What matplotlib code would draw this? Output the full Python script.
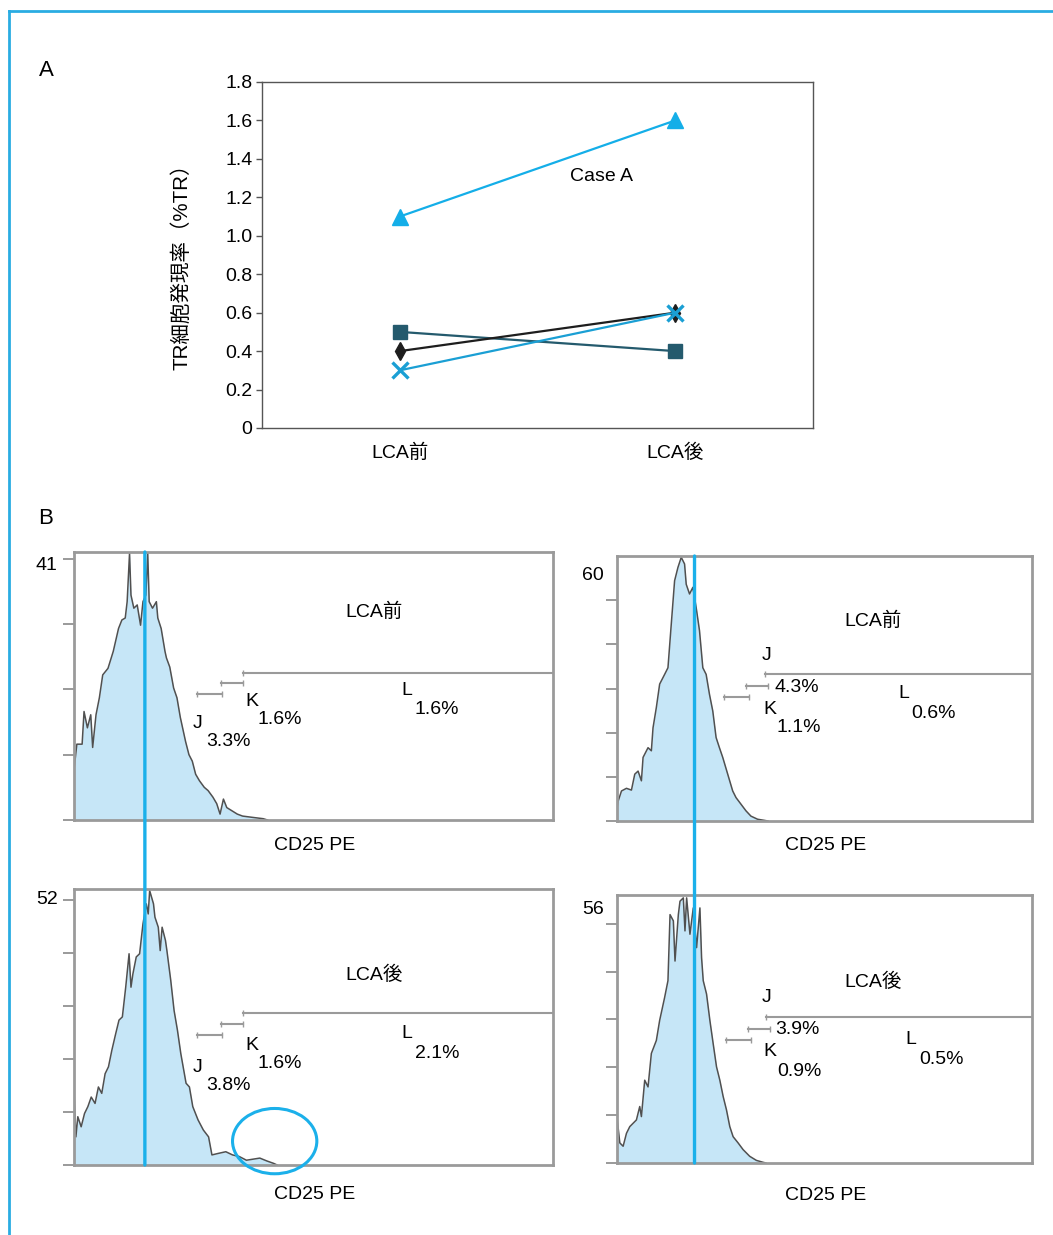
import matplotlib
matplotlib.use('Agg')
import matplotlib.pyplot as plt
from matplotlib.patches import Ellipse, ConnectionPatch
from matplotlib.lines import Line2D

plt.rcParams['font.family'] = ['Liberation Sans', 'Noto Sans CJK JP', 'DejaVu Sans']

# ---------------- data: panel A ----------------
categories = ['LCA前', 'LCA後']
series_triangle = [1.1, 1.6]   # Case A
series_square = [0.5, 0.4]
series_diamond = [0.4, 0.6]
series_cross = [0.3, 0.6]
y_ticks = [0, 0.2, 0.4, 0.6, 0.8, 1.0, 1.2, 1.4, 1.6, 1.8]
y_tick_labels = ['0', '0.2', '0.4', '0.6', '0.8', '1.0', '1.2', '1.4', '1.6', '1.8']

# ---------------- data: panel B histograms (channel 0-100, counts) ----------------
h1_x = [0.0, 0.7, 1.8, 2.2, 2.9, 3.6, 4.0, 4.7, 5.4, 6.1, 7.2, 8.3, 9.4, 10.1, 10.8, 11.2, 11.7,
        12.0, 12.6, 13.3, 14.0, 14.5, 15.1, 15.5, 15.8, 16.5, 17.3, 17.6, 18.3, 19.1, 19.4, 20.1,
        20.9, 21.6, 22.3, 23.4, 24.1, 24.8, 25.5, 26.3, 27.3, 28.1, 29.1, 29.9, 30.6, 31.3, 32.0,
        33.1, 34.2, 35.3, 37.4, 39.6, 40.5]
h1_y = [7.0, 11.6, 11.6, 16.6, 14.1, 16.1, 11.1, 16.1, 18.7, 22.2, 23.2, 25.8, 29.3, 30.6, 30.9, 33.4, 40.8,
        34.4, 32.4, 32.9, 29.8, 33.4, 34.4, 40.8, 33.4, 32.4, 33.4, 30.9, 29.3, 25.8, 24.8, 23.4,
        20.2, 18.7, 15.7, 12.0, 10.0, 9.0, 7.0, 6.0, 5.0, 4.5, 3.5, 2.5, 0.9, 3.2, 1.9,
        1.4, 0.9, 0.6, 0.4, 0.2, 0.0]

h2_x = [0.0, 0.4, 1.2, 2.4, 3.6, 4.4, 5.2, 6.0, 6.4, 7.6, 8.4, 8.8, 9.6, 10.4, 11.6, 12.4, 13.2,
        14.0, 14.8, 15.6, 16.4, 16.8, 17.6, 18.4, 19.2, 20.0, 20.8, 21.6, 22.4, 23.2, 24.0, 24.8,
        25.6, 26.8, 28.0, 28.8, 30.0, 31.2, 32.4, 34.0, 35.6, 36.5]
h2_y = [2.3, 4.5, 6.8, 7.4, 7.0, 10.6, 11.3, 9.1, 14.4, 16.6, 15.9, 21.1, 25.7, 31.0, 33.2, 34.7, 44.6,
        54.4, 57.4, 59.7, 58.2, 53.6, 51.4, 52.9, 48.3, 43.1, 34.7, 33.2, 28.7, 24.9, 18.9, 16.6,
        14.4, 10.6, 6.8, 5.3, 3.8, 2.3, 1.1, 0.4, 0.15, 0.0]

h3_x = [0.0, 0.5, 0.9, 1.6, 2.3, 3.0, 3.7, 4.5, 5.2, 5.9, 6.6, 7.3, 8.0, 8.8, 9.5, 10.2, 10.9,
        11.6, 12.0, 12.4, 13.1, 13.8, 14.5, 15.2, 15.6, 15.9, 16.7, 17.0, 17.7, 18.1, 18.5, 19.2,
        19.5, 20.3, 21.0, 21.7, 22.4, 23.5, 24.2, 24.9, 26.0, 27.1, 28.2, 28.9, 30.3, 31.8, 33.2,
        34.6, 36.1, 37.5, 38.9, 40.4, 41.8, 42.5]
h3_y = [16.0, 5.3, 9.1, 7.2, 9.7, 11.0, 12.8, 11.6, 14.7, 13.5, 17.2, 18.5, 21.6, 24.7, 27.3, 27.9, 33.5,
        39.8, 33.5, 36.0, 39.2, 39.8, 45.4, 49.2, 47.3, 51.7, 49.2, 46.7, 44.8, 40.4, 44.8, 42.3,
        40.4, 34.8, 29.1, 25.4, 21.0, 15.4, 14.7, 11.0, 8.5, 6.6, 5.3, 1.9, 2.2, 2.5, 1.9,
        1.6, 0.9, 1.1, 1.3, 0.75, 0.3, 0.0]

h4_x = [0.0, 0.8, 1.6, 2.4, 3.2, 4.0, 4.8, 5.6, 6.0, 6.8, 7.6, 8.4, 9.6, 10.4, 11.6, 12.4, 12.9,
        13.7, 14.1, 14.9, 15.3, 16.1, 16.5, 16.9, 17.7, 18.5, 19.3, 20.1, 20.5, 20.9, 21.7, 22.5,
        23.3, 24.1, 24.9, 25.7, 26.5, 27.3, 28.1, 29.3, 30.5, 32.1, 33.7, 35.3, 36.0]
h4_y = [10.4, 4.2, 3.5, 6.2, 7.6, 8.3, 9.0, 11.8, 9.7, 17.3, 15.9, 22.9, 25.6, 29.8, 34.6, 38.1, 51.9,
        50.6, 42.2, 51.9, 54.7, 55.4, 48.5, 55.4, 47.8, 53.3, 45.0, 53.3, 42.9, 38.1, 35.3, 29.8,
        24.9, 20.1, 17.3, 13.9, 11.1, 7.6, 5.5, 4.2, 2.8, 1.4, 0.55, 0.15, 0.0]

hist_max = [41, 60, 52, 56]
hist_titles = ['LCA前', 'LCA前', 'LCA後', 'LCA後']
ref_channel = [14.9, 18.8]      # vertical reference lines (left column, right column)
# gates: (L start, L y), (K x0, x1, y), (J x0, x1, y)
gates = [
    ((35.4, 22.5), (30.7, 35.4, 20.9), (25.7, 31.0, 19.3)),
    ((35.7, 33.2), (31.1, 36.6, 30.6), (25.8, 32.0, 28.1)),
    ((35.3, 28.7), (30.8, 35.4, 26.5), (25.7, 31.0, 24.4)),
    ((36.1, 30.5), (31.8, 36.9, 28.0), (26.5, 32.5, 25.7)),
]
gate_pct = [('3.3%', '1.6%', '1.6%'), ('4.3%', '1.1%', '0.6%'),
            ('3.8%', '1.6%', '2.1%'), ('3.9%', '0.9%', '0.5%')]
circle_center = (42.0, 4.5)
circle_size = (17.6, 12.3)

# ---------------- figure ----------------
W, H = 1053, 1235
fig = plt.figure(figsize=(W / 100, H / 100), dpi=100)
fig.patch.set_facecolor('white')


def rect(l, r, t, b):
    return [l / W, 1 - b / H, (r - l) / W, (b - t) / H]


def fx(x):
    return x / W


def fy(y):
    return 1 - y / H


FS = 14
CYAN = '#14aee8'
TEAL = '#245a6d'
GRAY = '#9a9a9a'

# outer frame lines
fig.add_artist(Line2D([fx(9), 1.0], [fy(11), fy(11)], transform=fig.transFigure, color='#2aace2', lw=2))
fig.add_artist(Line2D([fx(9), fx(9)], [fy(11), 0.0], transform=fig.transFigure, color='#2aace2', lw=2))

fig.text(fx(46), fy(70), 'A', fontsize=16, ha='center', va='center')
fig.text(fx(46), fy(518), 'B', fontsize=16, ha='center', va='center')

# ---------------- panel A ----------------
ax = fig.add_axes(rect(262, 813, 82, 428))
xpos = list(range(len(categories)))
ax.plot(xpos, series_triangle, color=CYAN, lw=1.6, marker='^', ms=11, zorder=3)
ax.plot(xpos, series_square, color=TEAL, lw=1.6, marker='s', ms=10, zorder=3)
ax.plot(xpos, series_diamond, color='#1e1e1e', lw=1.6, marker='d', ms=9, zorder=4)
ax.plot(xpos, series_cross, color='#1a9fd4', lw=1.6, marker='x', ms=12, mew=2.4, zorder=5)
ax.set_xlim(-0.5, 1.5)
ax.set_ylim(0, 1.8)
ax.set_yticks(y_ticks)
ax.set_yticklabels(y_tick_labels, fontsize=FS)
ax.set_xticks(xpos)
ax.set_xticklabels(categories, fontsize=FS)
ax.tick_params(axis='x', length=0, pad=11)
ax.tick_params(axis='y', length=4, width=1, color='#555555', pad=3)
for s in ax.spines.values():
    s.set_color('#555555')
    s.set_linewidth(1.0)
ax.set_ylabel('TR細胞発現率（%TR）', fontsize=14.8)
ax.yaxis.set_label_coords(-0.128, 0.48)
ax.text(0.734, 1.306, 'Case A', fontsize=FS, ha='center', va='center')

# ---------------- panel B ----------------
rects = [rect(73.5, 552.5, 552, 820), rect(616.5, 1031.5, 556, 821),
         rect(73.5, 552.5, 889, 1165), rect(616.5, 1031.5, 895, 1163)]
hx = [h1_x, h2_x, h3_x, h4_x]
hy = [h1_y, h2_y, h3_y, h4_y]
axes = []
for i in range(4):
    a = fig.add_axes(rects[i])
    a.fill_between(hx[i], hy[i], 0, color='#c6e6f7', lw=0, zorder=1)
    a.plot(hx[i], hy[i], color='#505050', lw=1.1, zorder=2)
    a.set_xlim(0, 100)
    a.set_ylim(0, hist_max[i])
    a.set_xticks([])
    a.set_yticks(list(range(0, hist_max[i], 10)))
    a.set_yticklabels([])
    a.tick_params(axis='y', length=8, width=1.4, color=GRAY, direction='out')
    for s in a.spines.values():
        s.set_color(GRAY)
        s.set_linewidth(2)
    (lx, ly), (kx0, kx1, ky), (jx0, jx1, jy) = gates[i]
    a.plot([lx, 100], [ly, ly], color=GRAY, lw=1.5, marker='|', ms=5, markevery=[0], zorder=3)
    a.plot([kx0, kx1], [ky, ky], color=GRAY, lw=1.5, marker='|', ms=5, zorder=3)
    a.plot([jx0, jx1], [jy, jy], color=GRAY, lw=1.5, marker='|', ms=5, zorder=3)
    axes.append(a)

# vertical reference lines crossing both rows
for col in range(2):
    top = axes[col]
    bot = axes[col + 2]
    con = ConnectionPatch(xyA=(ref_channel[col], hist_max[col]), coordsA='data', axesA=top,
                          xyB=(ref_channel[col], 0), coordsB='data', axesB=bot,
                          color='#1bb0ea', lw=2.4, zorder=10)
    fig.add_artist(con)

# circle in lower-left panel
axes[2].add_patch(Ellipse(circle_center, circle_size[0], circle_size[1], fill=False,
                          edgecolor='#1bb0ea', lw=2.2, clip_on=False, zorder=6))

# texts for panel B (pixel positions)
def t(x, y, s, **kw):
    fig.text(fx(x), fy(y), s, fontsize=FS, ha='center', va='center', **kw)

max_pos = [(46, 565), (593, 575), (47, 900), (593, 910)]
title_pos = [(374, 612), (873, 621), (374, 975), (873, 982)]
for i in range(4):
    t(*max_pos[i], str(hist_max[i]))
    t(*title_pos[i], hist_titles[i])

# left column labels
for i, dy in ((0, 0), (2, 1)):
    base = [0, 344][dy]
    jp, kp, lp = gate_pct[i]
    t(407, 690 + base, 'L')
    t(437, 709 + base, lp)
    t(252, 702 + base, 'K')
    t(280, 720 + base, kp)
    t(198, 723 + base, 'J')
    t(228, 742 + base, jp)
    t(315, 845 + base * 1.017, 'CD25 PE')

# right column labels
jp, kp, lp = gate_pct[1]
t(767, 656, 'J'); t(797, 688, jp); t(770, 709, 'K'); t(799, 728, kp)
t(904, 693, 'L'); t(934, 713, lp); t(826, 845, 'CD25 PE')
jp, kp, lp = gate_pct[3]
t(767, 998, 'J'); t(797, 1029, jp); t(770, 1051, 'K'); t(799, 1071, kp)
t(911, 1040, 'L'); t(941, 1059, lp); t(826, 1195, 'CD25 PE')

fig.savefig('out.png', dpi=100, facecolor='white')
